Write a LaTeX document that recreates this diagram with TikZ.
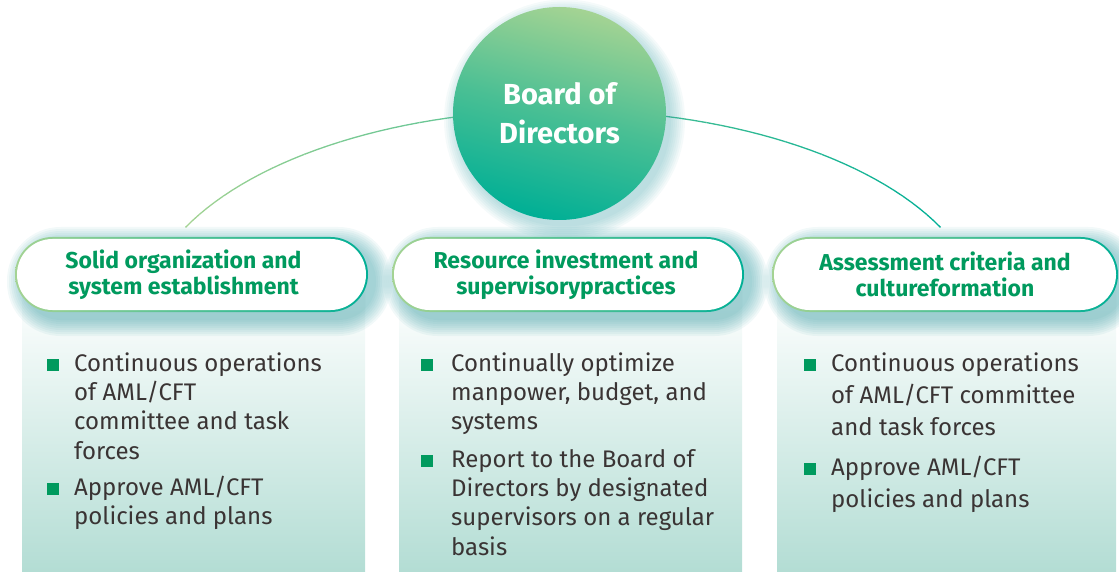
\documentclass[tikz,border=0pt]{standalone}
\usepackage{fontspec}
\setmainfont{Fira Sans}
\usetikzlibrary{positioning,shapes.misc}

\definecolor{leafgreen}{HTML}{A4D393}
\definecolor{seateal}{HTML}{00AF95}
\definecolor{headgreen}{HTML}{009A5E}
\definecolor{inkgray}{HTML}{3A3434}
\definecolor{panelteal}{HTML}{B3DDD4}
\definecolor{glowteal}{HTML}{3A9FA6}

% soft teal glow behind a pill: x1 y1 x2 y2
\newcommand\pillglow[4]{%
  \foreach \k in {0,2,...,16}{
    \pgfmathsetmacro\rr{37.5+\k}
    \fill[glowteal, opacity=0.065, rounded corners=\rr pt]
      (#1+8-\k,#2+6-\k) rectangle (#3+8+\k,#4+8+\k);
  }}

\tikzset{
  board/.style={circle, minimum size=213pt, inner sep=0pt,
    top color=leafgreen, bottom color=seateal, middle color=seateal!55!leafgreen,
    shading angle=-15,
    text=white, align=center, font=\bfseries\fontsize{29}{39}\selectfont},
  hdbox/.style={rounded rectangle, minimum height=75pt, inner sep=0pt,
    left color=leafgreen, right color=seateal,
    path picture={\fill[white, rounded corners=35.5pt]
      ([shift={(2pt,-2pt)}]path picture bounding box.north west) rectangle
      ([shift={(-2pt,2pt)}]path picture bounding box.south east);}},
  hdtext/.style={align=center, text=headgreen, inner sep=0pt,
    font=\bfseries\fontsize{23}{26}\selectfont},
  panel/.style={top color=white, bottom color=panelteal},
  sq/.style={fill=headgreen, minimum size=12pt, inner sep=0pt},
  item/.style={anchor=base west, align=left, inner sep=0pt, text=inkgray,
    font=\fontsize{24}{29.3}\selectfont},
  wideitem/.style={item, font=\fontsize{24}{32}\selectfont},
  arcline/.style={line width=1.3pt}
}

\begin{document}
\begin{tikzpicture}[x=1pt, y=-1pt]
  \useasboundingbox (0,0) rectangle (1119,572);

  % panels under the headers
  \shade[panel] (22,290) rectangle (365,572);
  \shade[panel] (399,290) rectangle (742,572);
  \shade[panel] (777,290) rectangle (1116,572);

  % arc behind the board, green to teal
  \foreach \i in {0,...,63}{
    \pgfmathsetmacro\ta{154-2*\i}
    \pgfmathsetmacro\tb{\ta-2}
    \pgfmathtruncatemacro\p{100-100*\i/63}
    \draw[arcline, leafgreen!\p!seateal]
      ({563+420*cos(\ta)},{319-209*sin(\ta)}) -- ({563+420*cos(\tb)},{319-209*sin(\tb)});
  }

  % glow round the board, heavier to the lower right
  \foreach \k in {0,2,...,14}
    \fill[glowteal, opacity=0.05] (564.5,120) circle ({106.5+\k});
  \node[board] (board) at (559.5,113.5) {Board of\\Directors};

  % headers
  \pillglow{15}{237}{368}{312}
  \pillglow{392}{237}{744}{312}
  \pillglow{772}{237}{1118}{312}
  \node[hdbox, minimum width=353pt] (hdA) at (191.5,274.5) {};
  \node[hdbox, minimum width=352pt] (hdB) at (568,274.5) {};
  \node[hdbox, minimum width=346pt] (hdC) at (945,274.5) {};
  \node[hdtext] (tA) at ([xshift=-8pt]hdA.center) {Solid organization and\\system establishment};
  \node[hdtext] (tB) at ([xshift=-2pt]hdB.center) {Resource investment and\\supervisorypractices};
  \node[hdtext] (tC) at (hdC.center) {Assessment criteria and\\cultureformation};

  % bullet lists (anchored on the last line)
  \node[sq] (bA1) at (52.5,365) {};
  \node[item] (iA1) at (74,459) {Continuous operations\\of AML/CFT\\committee and task\\forces};
  \node[sq] (bA2) at (52.5,489) {};
  \node[item] (iA2) at (74,524.3) {Approve AML/CFT\\policies and plans};

  \node[sq] (bB1) at (427,365) {};
  \node[item] (iB1) at (451,429.6) {Continually optimize\\manpower, budget, and\\systems};
  \node[sq] (bB2) at (427,461) {};
  \node[item] (iB2) at (451,555) {Report to the Board of\\Directors by designated\\supervisors on a regular\\basis};

  \node[sq] (bC1) at (810,365) {};
  \node[wideitem] (iC1) at (831,435) {Continuous operations\\of AML/CFT committee\\and task forces};
  \node[sq] (bC2) at (810,469) {};
  \node[wideitem] (iC2) at (831,507) {Approve AML/CFT\\policies and plans};
\end{tikzpicture}
\end{document}
